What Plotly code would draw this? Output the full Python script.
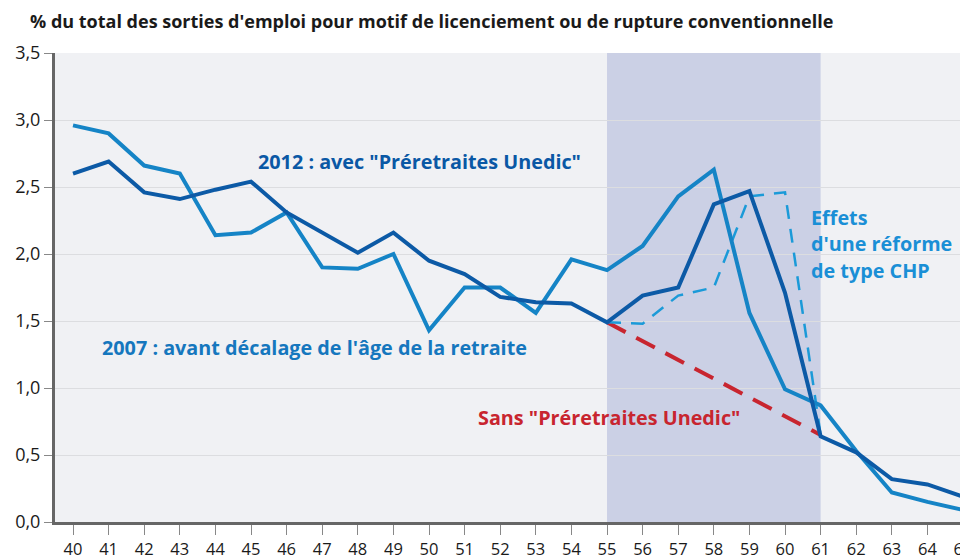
import plotly.graph_objects as go

ages = list(range(40, 66))
y2007 = [2.96, 2.90, 2.66, 2.60, 2.14, 2.16, 2.31, 1.90, 1.89, 2.00, 1.43, 1.75, 1.75,
         1.56, 1.96, 1.88, 2.06, 2.43, 2.63, 1.56, 0.99, 0.87, 0.53, 0.22, 0.15, 0.09]
y2012 = [2.60, 2.69, 2.46, 2.41, 2.48, 2.54, 2.31, 2.16, 2.01, 2.16, 1.95, 1.85, 1.68,
         1.64, 1.63, 1.49, 1.69, 1.75, 2.37, 2.47, 1.71, 0.64, 0.52, 0.32, 0.28, 0.19]
chp_ages = [55, 56, 57, 58, 59, 60, 61]
y_chp = [1.49, 1.48, 1.69, 1.75, 2.43, 2.46, 0.65]
sans_ages = [55, 61]
y_sans = [1.49, 0.65]
yticks = [0, 0.5, 1.0, 1.5, 2.0, 2.5, 3.0, 3.5]
ytick_text = ["0,0", "0,5", "1,0", "1,5", "2,0", "2,5", "3,0", "3,5"]

title = "% du total des sorties d'emploi pour motif de licenciement ou de rupture conventionnelle"
label_2012 = '2012 : avec "Préretraites Unedic"'
label_2007 = "2007 : avant décalage de l'âge de la retraite"
label_sans = 'Sans "Préretraites Unedic"'
label_chp = ["Effets", "d'une réforme", "de type CHP"]

FONT = "Open Sans"
c_dark = "#0c5aa6"
c_light = "#1584c6"
c_chp = "#1b9ad8"
c_red = "#c8252f"

# page body has an 8px offset; compensate in margins
OFF = 8
ASIZE = 19.8

fig = go.Figure()
fig.add_trace(go.Scatter(x=sans_ages, y=y_sans, mode="lines",
                         line=dict(color=c_red, width=4, dash="21px,12px")))
fig.add_trace(go.Scatter(x=chp_ages, y=y_chp, mode="lines",
                         line=dict(color=c_chp, width=2.5, dash="14px,10px")))
fig.add_trace(go.Scatter(x=ages, y=y2007, mode="lines",
                         line=dict(color=c_light, width=4)))
fig.add_trace(go.Scatter(x=ages, y=y2012, mode="lines",
                         line=dict(color=c_dark, width=4)))

fig.add_shape(type="rect", xref="x", yref="y", x0=55, x1=61, y0=0, y1=3.5,
              fillcolor="#cbd0e5", line=dict(width=0), layer="below")

ann = []
ann.append(dict(x=45.15, y=2.69, text="<b>%s</b>" % label_2012, font=dict(color="#0a58a5", size=ASIZE)))
ann.append(dict(x=40.75, y=1.305, text="<b>%s</b>" % label_2007, font=dict(color="#1577be", size=ASIZE)))
ann.append(dict(x=51.33, y=0.78, text="<b>%s</b>" % label_sans, font=dict(color=c_red, size=ASIZE)))
for i, t in enumerate(label_chp):
    ann.append(dict(x=60.68, y=2.27 - i * 0.195, text="<b>%s</b>" % t, font=dict(color="#1a8fd6", size=ASIZE)))
for a in ann:
    a.update(xref="x", yref="y", xanchor="left", yanchor="middle", showarrow=False)
    a["font"]["family"] = FONT

fig.update_layout(
    width=968, height=557,
    margin=dict(l=55 - OFF, r=OFF, t=53 - OFF, b=35 + OFF),
    paper_bgcolor="white",
    plot_bgcolor="#f0f1f4",
    showlegend=False,
    font=dict(family=FONT, color="#1a1a1a", size=16),
    title=dict(text="<b>%s</b>" % title, x=(30 - OFF) / 968, xanchor="left", xref="container",
               y=1 - (22 - OFF) / 557, yanchor="middle", yref="container",
               font=dict(family=FONT, size=18, color="#1a1a1a")),
    annotations=ann,
)
fig.update_xaxes(range=[39.494, 65.14], tickmode="array", tickvals=ages,
                 ticktext=[str(a) for a in ages], ticks="outside", ticklen=10,
                 tickcolor="#888", tickwidth=1.2, showgrid=False, zeroline=False,
                 showline=True, linecolor="#666", linewidth=3,
                 tickfont=dict(size=16.5), fixedrange=True, automargin=False)
fig.update_yaxes(range=[0, 3.5], tickmode="array", tickvals=yticks, ticktext=ytick_text,
                 ticks="outside", ticklen=8, tickcolor="#888", tickwidth=1.2,
                 showgrid=True, gridcolor="#dcdde0", gridwidth=1, zeroline=False,
                 showline=True, linecolor="#666", linewidth=3,
                 tickfont=dict(size=18), fixedrange=True, automargin=False)

fig.write_html("out.html")
